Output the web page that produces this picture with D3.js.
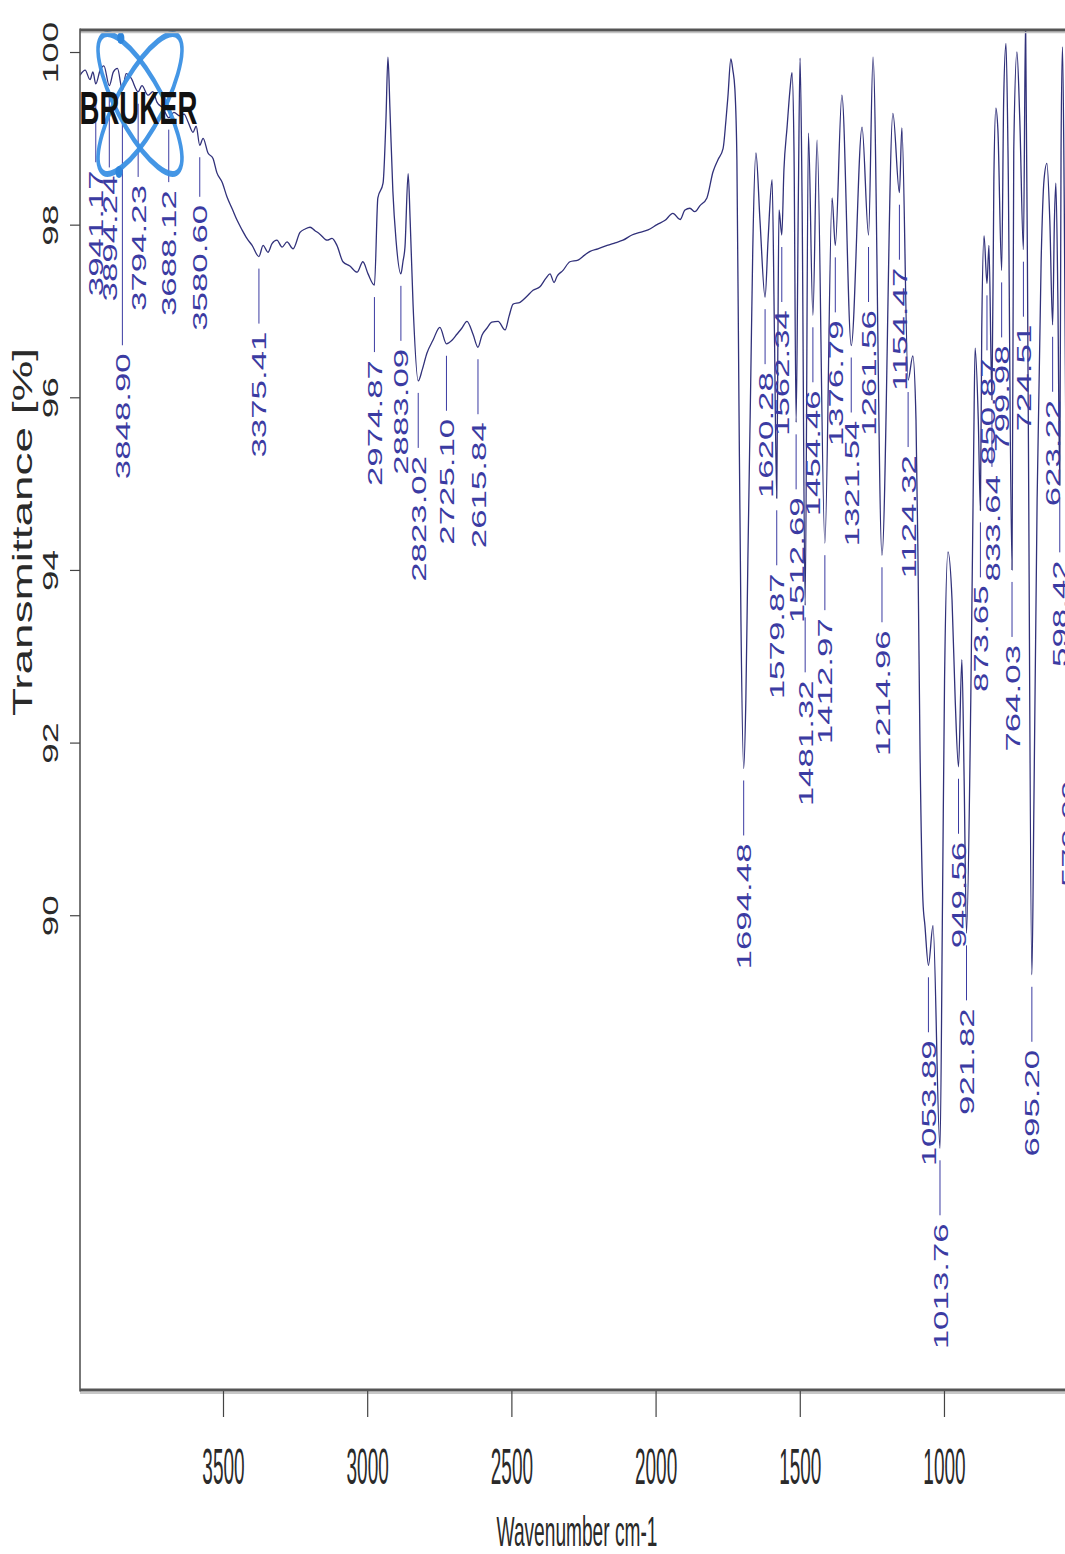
<!DOCTYPE html>
<html>
<head>
<meta charset="utf-8">
<script src="https://cdn.jsdelivr.net/npm/d3@7"></script>
<style>
  body { margin: 0; background: #ffffff; }
  svg { display: block; }
</style>
</head>
<body>
<svg id="chart" width="1065" height="1554"></svg>
<script>
// FT-IR spectrum: wavenumber (cm-1) against transmittance (%)
const wavenumber = [
  3996, 3978, 3961, 3951, 3941.17, 3926, 3913, 3894.24, 3880, 3866, 3848.90, 3836, 3819, 3794.23,
  3781, 3760, 3743, 3729, 3708, 3688.12, 3670, 3649, 3635, 3621, 3604, 3593, 3580.60, 3569, 3552,
  3535, 3521, 3503, 3486, 3469, 3451, 3434, 3417, 3399, 3375.41, 3361, 3344, 3330, 3313, 3295,
  3278, 3257, 3233, 3215, 3198, 3181, 3164, 3139, 3122, 3105, 3084, 3060, 3035, 3015, 2997,
  2974.87, 2963, 2945, 2935, 2928, 2921, 2911, 2900, 2883.09, 2876, 2869, 2858, 2851, 2841,
  2823.02, 2809, 2793, 2772, 2748, 2725.10, 2706, 2689, 2672, 2654, 2633, 2615.84, 2602, 2585,
  2568, 2546, 2522, 2508, 2494, 2470, 2446, 2425, 2401, 2380, 2366, 2352, 2342, 2321, 2297,
  2269, 2245, 2227, 2200, 2168, 2140, 2113, 2082, 2054, 2026, 1995, 1967, 1940, 1915, 1898,
  1881, 1864, 1846, 1822, 1801, 1784, 1766, 1756, 1749, 1739, 1732, 1725, 1718, 1711, 1704,
  1694.48, 1687, 1680, 1670, 1663, 1652, 1638, 1620.28, 1610, 1596, 1588, 1579.87, 1576, 1572,
  1562.34, 1555, 1544, 1534, 1527, 1520, 1512.69, 1505, 1499, 1492, 1481.32, 1470, 1454.46,
  1440, 1412.97, 1388, 1376.79, 1354, 1321.54, 1284, 1261.56, 1246, 1214.96, 1177, 1154.47,
  1146, 1124.32, 1108, 1097, 1090, 1083, 1073, 1066, 1053.89, 1038, 1013.76, 1005, 998, 986,
  972, 961, 949.56, 938, 930, 921.82, 907, 897, 892, 881, 873.65, 869, 861, 850.87, 844,
  833.64, 827, 820, 813, 799.98, 793, 785, 778, 764.03, 758, 747, 737, 724.51, 717, 708,
  695.20, 688, 677, 663, 653, 643, 633, 623.22, 617, 612, 605, 598.42, 594, 589, 583, 576,
  570.09, 559, 545, 528
];
const transmittance = [
  99.73, 99.79, 99.68, 99.77, 99.63, 99.79, 99.84, 99.61, 99.77, 99.81, 99.56, 99.75, 99.70, 99.54,
  99.61, 99.50, 99.54, 99.42, 99.35, 99.24, 99.30, 99.26, 99.28, 99.19, 99.07, 99.14, 98.92, 99.00, 98.83,
  98.77, 98.60, 98.49, 98.32, 98.19, 98.05, 97.94, 97.84, 97.76, 97.63, 97.76, 97.68, 97.78, 97.82, 97.74,
  97.80, 97.72, 97.91, 97.95, 97.97, 97.93, 97.89, 97.82, 97.84, 97.76, 97.57, 97.52, 97.45, 97.57, 97.43,
  97.30, 98.31, 98.48, 99.21, 99.94, 99.33, 98.39, 97.82, 97.43, 97.57, 97.74, 98.59, 98.05, 97.08,
  96.19, 96.32, 96.51, 96.66, 96.81, 96.62, 96.66, 96.73, 96.80, 96.88, 96.73, 96.58, 96.72, 96.80,
  96.87, 96.88, 96.78, 96.94, 97.08, 97.10, 97.17, 97.24, 97.28, 97.38, 97.43, 97.33, 97.40, 97.47, 97.57,
  97.59, 97.65, 97.69, 97.72, 97.76, 97.79, 97.82, 97.88, 97.91, 97.94, 98.00, 98.05, 98.13, 98.06, 98.17,
  98.19, 98.15, 98.22, 98.31, 98.61, 98.75, 98.88, 99.21, 99.49, 99.92, 99.79, 99.57, 98.75, 95.97, 93.42,
  91.70, 92.49, 94.11, 96.20, 97.71, 98.83, 98.05, 97.16, 97.82, 98.52, 96.78, 94.83, 96.60, 98.17,
  97.88, 98.63, 99.13, 99.56, 99.76, 98.86, 95.71, 98.29, 99.93, 98.29, 93.59, 99.06, 96.95,
  98.98, 94.31, 98.31, 97.76, 99.50, 96.60, 99.13, 97.88, 99.94, 94.17, 99.29, 98.37,
  99.12, 96.20, 96.48, 95.74, 94.11, 91.91, 90.17, 89.88, 89.42, 89.88, 87.30, 90.17, 92.72, 94.21,
  93.65, 92.49, 91.72, 92.96, 91.56, 89.79, 92.49, 95.39, 96.57, 95.74, 94.69, 96.78, 97.87, 97.32, 97.76,
  95.97, 98.52, 99.35, 99.10, 97.47, 99.44, 100.10, 98.86, 94.00, 98.86, 100.00, 99.21, 97.71, 100.40, 95.97,
  89.31, 91.33, 94.81, 97.59, 98.52, 98.71, 98.05, 96.84, 98.05, 98.48, 97.13, 94.98, 98.86, 100.06, 98.29, 94.81,
  92.43, 95.97, 98.57, 98.90
];

// Picked bands (cm-1)
const peakWavenumbers = [
  3941.17, 3894.24, 3848.90, 3794.23, 3688.12, 3580.60, 3375.41, 2974.87, 2883.09, 2823.02,
  2725.10, 2615.84, 1694.48, 1620.28, 1579.87, 1562.34, 1512.69, 1481.32, 1454.46, 1412.97,
  1376.79, 1321.54, 1261.56, 1214.96, 1154.47, 1124.32, 1053.89, 1013.76, 949.56, 921.82,
  873.65, 850.87, 833.64, 799.98, 764.03, 724.51, 695.20, 623.22, 598.42, 570.09
];
// Crowded bands whose labels start lower down (transmittance level of the label start)
const displacedLabelLevel = {
  "3941.17": 98.63, "3894.24": 98.57, "3848.90": 96.51,
  "3794.23": 98.46, "3688.12": 98.40, "3580.60": 98.23
};

const xTicks = [3500, 3000, 2500, 2000, 1500, 1000];
const yTicks = [90, 92, 94, 96, 98, 100];

const xTitle = "Wavenumber cm-1";
const yTitle = "Transmittance [%]";
const logoText = "BRUKER";

// ---------------------------------------------------------------------------
const svg = d3.select("#chart");
const FONT = "'Liberation Sans', Arial, Helvetica, sans-serif";
const plotLeft = 80, plotTop = 30, plotBottom = 1390, plotRight = 1065;

const x = d3.scaleLinear().domain([4000, 400]).range([78.8, 1117]);
const y = d3.scaleLinear().domain([84.5, 100.255]).range([plotBottom, plotTop]);

const spectrum = wavenumber.map((w, i) => [w, transmittance[i]]);

svg.append("rect").attr("width", 1065).attr("height", 1554).attr("fill", "#fff");

svg.append("defs").append("clipPath").attr("id", "plotClip")
  .append("rect").attr("x", plotLeft).attr("y", plotTop)
  .attr("width", 1117 - plotLeft).attr("height", plotBottom - plotTop);

// spectrum trace
const line = d3.line()
  .x(d => x(d[0]))
  .y(d => y(d[1]))
  .curve(d3.curveMonotoneX);

svg.append("path")
  .datum(spectrum)
  .attr("clip-path", "url(#plotClip)")
  .attr("fill", "none")
  .attr("stroke", "#31317a")
  .attr("stroke-width", 1.3)
  .attr("stroke-linejoin", "round")
  .attr("d", line);

// value of the trace at a given wavenumber
function valueAt(w) {
  const i = wavenumber.findIndex(v => Math.abs(v - w) < 1e-6);
  if (i >= 0) return transmittance[i];
  const j = wavenumber.findIndex(v => v < w);
  const a = spectrum[j - 1], b = spectrum[j];
  return a[1] + (b[1] - a[1]) * (w - a[0]) / (b[0] - a[0]);
}

// peak labels
const peakColor = "#3b3ba2";
const fmt = d3.format(".2f");
const peaks = svg.append("g").attr("class", "peaks");
peakWavenumbers.forEach(w => {
  const px = x(w);
  const yMin = y(valueAt(w));
  const key = fmt(w);
  const textTop = displacedLabelLevel[key] !== undefined ? y(displacedLabelLevel[key]) : yMin + 75;
  peaks.append("line")
    .attr("x1", px).attr("x2", px)
    .attr("y1", yMin + 12).attr("y2", textTop - 8)
    .attr("stroke", peakColor).attr("stroke-width", 1);
  peaks.append("text")
    .attr("transform", `translate(${px},${textTop}) rotate(-90) scale(1.66,1)`)
    .attr("text-anchor", "end")
    .attr("dy", "0.36em")
    .attr("font-family", FONT)
    .attr("font-size", 21)
    .attr("fill", peakColor)
    .text(key);
});

// Bruker logo
const logo = svg.append("g").attr("transform", "translate(140,104) scale(0.6,1)");
[45, -45].forEach(a => {
  logo.append("ellipse")
    .attr("rx", 93).attr("ry", 33)
    .attr("transform", `rotate(${a})`)
    .attr("fill", "none")
    .attr("stroke", "#3a90e4")
    .attr("stroke-width", 6)
    .attr("opacity", 0.95);
});
logo.append("circle").attr("cx", -32).attr("cy", -66).attr("r", 6).attr("fill", "#2f86dc");
logo.append("circle").attr("cx", -35).attr("cy", 68).attr("r", 6).attr("fill", "#2f86dc");
svg.append("text")
  .attr("transform", "translate(138.5,124) scale(0.6,1)")
  .attr("text-anchor", "middle")
  .attr("font-family", FONT)
  .attr("font-weight", "bold")
  .attr("font-size", 46)
  .attr("fill", "#111")
  .text(logoText);

// frame
const frame = svg.append("g");
frame.append("line").attr("x1", plotLeft).attr("x2", plotRight).attr("y1", plotTop + 2.5).attr("y2", plotTop + 2.5)
  .attr("stroke", "#c4c4c4").attr("stroke-width", 1.5);
frame.append("line").attr("x1", plotLeft).attr("x2", plotRight).attr("y1", plotTop).attr("y2", plotTop)
  .attr("stroke", "#555").attr("stroke-width", 3);
frame.append("line").attr("x1", plotLeft).attr("x2", plotRight).attr("y1", plotBottom + 3).attr("y2", plotBottom + 3)
  .attr("stroke", "#b5b5b5").attr("stroke-width", 1.5);
frame.append("line").attr("x1", plotLeft).attr("x2", plotRight).attr("y1", plotBottom).attr("y2", plotBottom)
  .attr("stroke", "#555").attr("stroke-width", 3);
frame.append("line").attr("x1", plotLeft).attr("x2", plotLeft).attr("y1", plotTop - 1.5).attr("y2", plotBottom + 1.5)
  .attr("stroke", "#555").attr("stroke-width", 1.6);

// y axis
const yAxis = svg.append("g")
  .attr("transform", `translate(${plotLeft},0)`)
  .call(d3.axisLeft(y).tickValues(yTicks).tickSize(10).tickFormat(d3.format("d")));
yAxis.select(".domain").remove();
yAxis.selectAll(".tick line").attr("stroke", "#444").attr("stroke-width", 1.2);
yAxis.selectAll(".tick text")
  .attr("x", null).attr("dy", "0.36em")
  .attr("transform", "translate(-30,0) rotate(-90) scale(1.68,1)")
  .attr("text-anchor", "middle")
  .attr("font-family", FONT)
  .attr("font-size", 22)
  .attr("fill", "#2a2a2a");

// x axis
const xAxis = svg.append("g")
  .attr("transform", `translate(0,${plotBottom + 1})`)
  .call(d3.axisBottom(x).tickValues(xTicks).tickSize(26).tickFormat(d3.format("d")));
xAxis.select(".domain").remove();
xAxis.selectAll(".tick line").attr("stroke", "#444").attr("stroke-width", 1.2);
xAxis.selectAll(".tick text")
  .attr("y", null).attr("dy", null)
  .attr("transform", "translate(0,93) scale(0.38,1)")
  .attr("text-anchor", "middle")
  .attr("font-family", FONT)
  .attr("font-size", 50)
  .attr("fill", "#2a2a2a");

// axis titles
svg.append("text")
  .attr("transform", "translate(577,1546) scale(0.445,1)")
  .attr("text-anchor", "middle")
  .attr("font-family", FONT)
  .attr("font-size", 43)
  .attr("fill", "#2a2a2a")
  .text(xTitle);

svg.append("text")
  .attr("transform", "translate(23,532) rotate(-90) scale(1.7,1)")
  .attr("text-anchor", "middle")
  .attr("dy", "0.35em")
  .attr("font-family", FONT)
  .attr("font-size", 27)
  .attr("fill", "#2a2a2a")
  .text(yTitle);
</script>
</body>
</html>
